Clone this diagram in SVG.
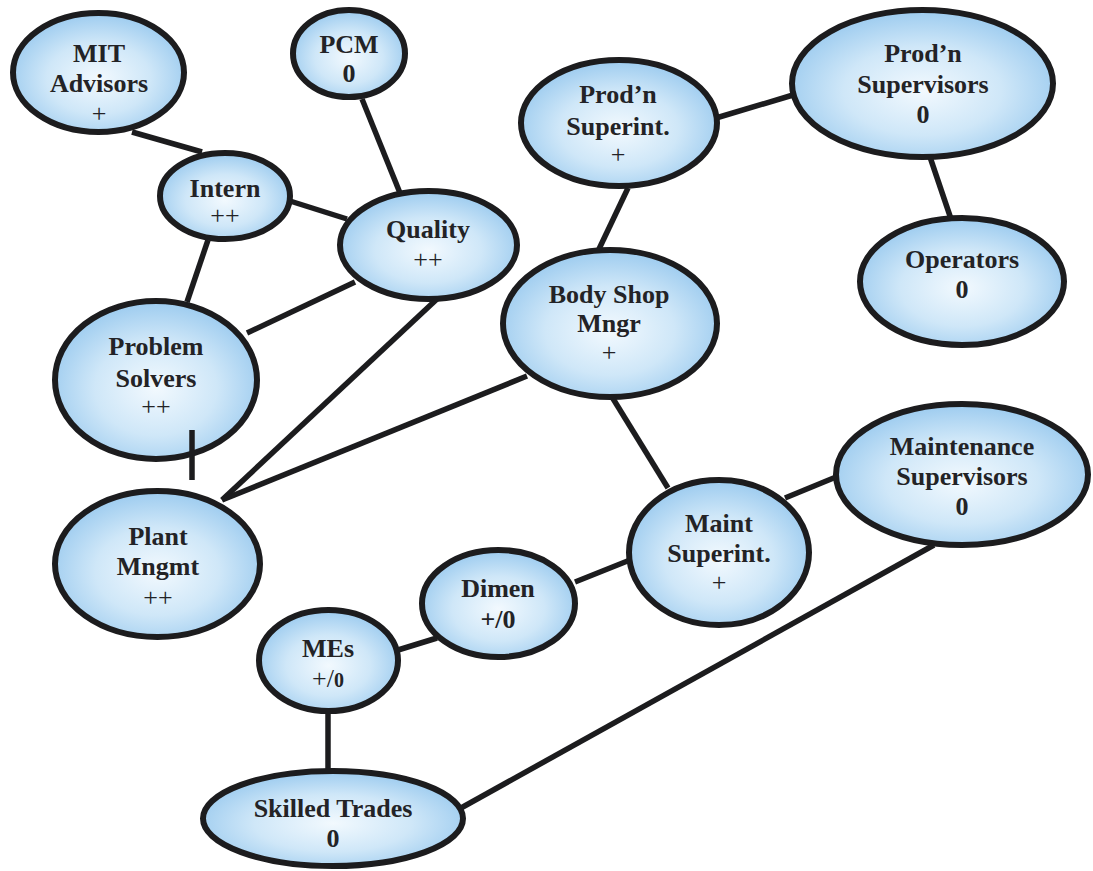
<svg xmlns="http://www.w3.org/2000/svg" width="1093" height="871" viewBox="0 0 1093 871">
<style>
.node ellipse{fill:url(#g);stroke:#1c1c1e;stroke-width:6}
.node text{font-family:"Liberation Serif","Times New Roman",serif;font-size:26px;font-weight:bold;fill:#232326;text-anchor:middle}
.node text.s{font-weight:normal}
#connectors line{stroke:#1c1c1e;stroke-width:5.5;stroke-linecap:butt}
</style>
<defs>
<radialGradient id="g" cx="0.5" cy="0.55" r="0.55">
<stop offset="0" stop-color="#f2f9fe"/>
<stop offset="0.55" stop-color="#cfe7f8"/>
<stop offset="1" stop-color="#9ccbef"/>
</radialGradient>
</defs>
<rect width="1093" height="871" fill="#ffffff"/>
<g id="nodes">
<g id="mit" class="node"><ellipse cx="98.5" cy="72.5" rx="85.5" ry="59.5"/><text x="99" y="62">MIT</text><text x="99" y="92">Advisors</text><text class="s" x="99" y="122">+</text></g>
<g id="pcm" class="node"><ellipse cx="349" cy="53.5" rx="56" ry="43.5"/><text x="349" y="53">PCM</text><text x="349" y="82">0</text></g>
<g id="intern" class="node"><ellipse cx="225" cy="196" rx="65" ry="43"/><text x="225" y="197">Intern</text><text class="s" x="225" y="224">++</text></g>
<g id="quality" class="node"><ellipse cx="428.5" cy="245" rx="88.5" ry="54"/><text x="428" y="238">Quality</text><text class="s" x="428" y="268">++</text></g>
<g id="problem" class="node"><ellipse cx="156" cy="380" rx="101" ry="79"/><text x="156" y="355">Problem</text><text x="156" y="387">Solvers</text><text class="s" x="156" y="415">++</text></g>
<g id="plant" class="node"><ellipse cx="157.5" cy="564" rx="102.5" ry="73"/><text x="158" y="545">Plant</text><text x="158" y="575">Mngmt</text><text class="s" x="158" y="606">++</text></g>
<g id="prodsuperint" class="node"><ellipse cx="619" cy="123" rx="98" ry="63"/><text x="618" y="103">Prod’n</text><text x="618" y="135">Superint.</text><text class="s" x="618" y="163">+</text></g>
<g id="prodsupervisors" class="node"><ellipse cx="922.5" cy="83.5" rx="130.5" ry="73.5"/><text x="923" y="62">Prod’n</text><text x="923" y="93">Supervisors</text><text x="923" y="123">0</text></g>
<g id="operators" class="node"><ellipse cx="962" cy="281.5" rx="102" ry="63.5"/><text x="962" y="268">Operators</text><text x="962" y="298">0</text></g>
<g id="bodyshop" class="node"><ellipse cx="610" cy="323.5" rx="107" ry="73.5"/><text x="609" y="303">Body Shop</text><text x="609" y="332">Mngr</text><text class="s" x="609" y="361">+</text></g>
<g id="maintsupervisors" class="node"><ellipse cx="962" cy="474.5" rx="126" ry="70.5"/><text x="962" y="455">Maintenance</text><text x="962" y="485">Supervisors</text><text x="962" y="515">0</text></g>
<g id="maintsuperint" class="node"><ellipse cx="719" cy="552.5" rx="90" ry="72.5"/><text x="719" y="532">Maint</text><text x="719" y="562">Superint.</text><text class="s" x="719" y="591">+</text></g>
<g id="dimen" class="node"><ellipse cx="498.5" cy="603.5" rx="76.5" ry="53.5"/><text x="498" y="597">Dimen</text><text x="498" y="628">+/0</text></g>
<g id="mes" class="node"><ellipse cx="328.5" cy="660.5" rx="69.5" ry="50.5"/><text x="328" y="657">MEs</text><text x="328" y="687"><tspan font-weight="normal">+/</tspan><tspan font-size="20">0</tspan></text></g>
<g id="skilled" class="node"><ellipse cx="333" cy="818.5" rx="130" ry="47.5"/><text x="333" y="817">Skilled Trades</text><text x="333" y="847">0</text></g>
</g>
<g id="connectors">
<line x1="132" y1="132" x2="202" y2="152"/>
<line x1="362" y1="99" x2="400" y2="193"/>
<line x1="290" y1="201" x2="347" y2="219"/>
<line x1="208" y1="240" x2="187" y2="302"/>
<line x1="355" y1="282" x2="247" y2="333"/>
<line x1="437" y1="299" x2="222" y2="500"/>
<line x1="527" y1="376" x2="222" y2="500"/>
<line x1="628" y1="188" x2="599" y2="249"/>
<line x1="716" y1="118" x2="793" y2="95"/>
<line x1="930" y1="157" x2="951" y2="219"/>
<line x1="612" y1="397" x2="668" y2="488"/>
<line x1="785" y1="498" x2="836" y2="477"/>
<line x1="575" y1="582" x2="630" y2="560"/>
<line x1="398" y1="650" x2="437" y2="638"/>
<line x1="328" y1="711" x2="328" y2="771"/>
<line x1="461" y1="808" x2="934" y2="545"/>
<line x1="192" y1="430" x2="192" y2="480"/>
</g>
</svg>
